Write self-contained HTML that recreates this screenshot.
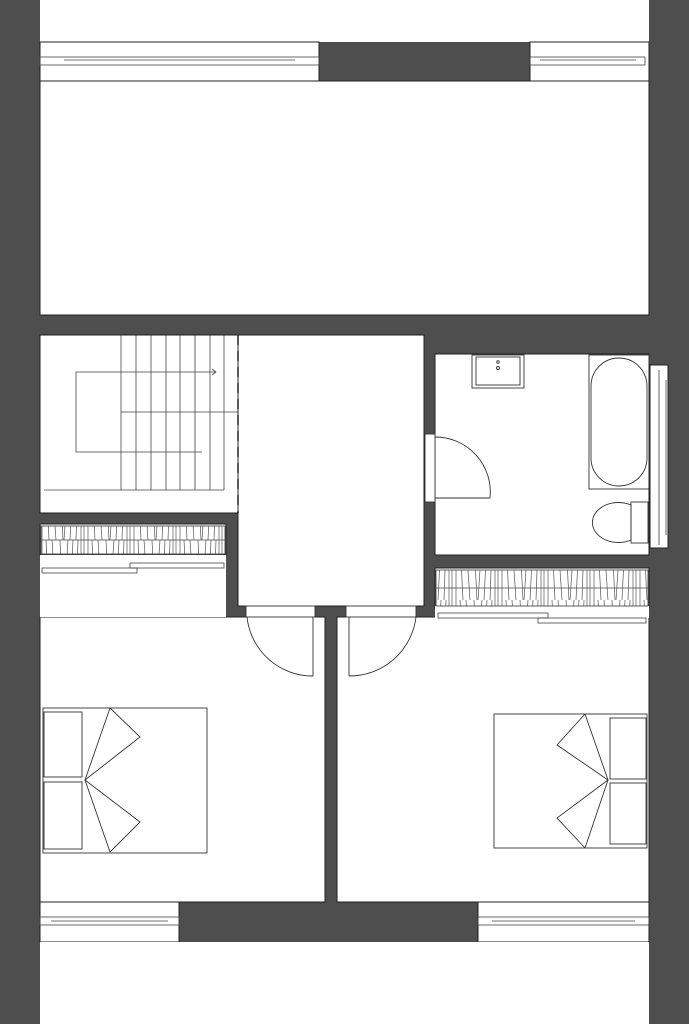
<!DOCTYPE html>
<html><head><meta charset="utf-8"><style>html,body{margin:0;padding:0;background:#fff}svg{display:block}</style></head>
<body>
<svg width="689" height="1024" viewBox="0 0 689 1024" xmlns="http://www.w3.org/2000/svg">
<defs>
<pattern id="wd" x="40" y="0" width="46" height="60" patternUnits="userSpaceOnUse">
<g stroke="#555" stroke-width="0.7" fill="none">
<line x1="2" y1="0" x2="2" y2="60"/><line x1="6" y1="0" x2="9" y2="60"/><line x1="12" y1="0" x2="16" y2="60"/>
<line x1="20" y1="0" x2="23" y2="60"/><line x1="24" y1="60" x2="28" y2="0"/><line x1="30" y1="60" x2="33" y2="0"/>
<line x1="36" y1="60" x2="38" y2="0"/><line x1="41" y1="0" x2="41" y2="60"/><line x1="44" y1="0" x2="44" y2="60"/>
</g></pattern>
</defs>
<rect width="689" height="1024" fill="#4e4e4e"/>
<g fill="#fff" stroke="#222" stroke-width="1">
<rect x="40" y="-2" width="609" height="44" stroke="none"/>
<rect x="40" y="42" width="279" height="39"/>
<rect x="530" y="42" width="119" height="39"/>
<rect x="40" y="81" width="609" height="234"/>
<rect x="40" y="335" width="198" height="178"/>
<rect x="238" y="335" width="186" height="271"/>
<rect x="435" y="354" width="214" height="201"/>
<rect x="650" y="365" width="18" height="183"/>
<rect x="40" y="524" width="186" height="31"/>
<rect x="40" y="555" width="186" height="70" stroke="none"/>
<rect x="40" y="617" width="285" height="285"/>
<rect x="435" y="568" width="214" height="40"/>
<rect x="435" y="608" width="214" height="20" stroke="none"/>
<rect x="337" y="617" width="312" height="285"/>
<rect x="40" y="902" width="139" height="40"/>
<rect x="478" y="902" width="171" height="40"/>
<rect x="40" y="942" width="609" height="84" stroke="none"/>
<rect x="246" y="604" width="69" height="14" stroke="none"/>
<rect x="346" y="604" width="70" height="14" stroke="none"/>
<rect x="40" y="555" width="186" height="62" stroke="none"/>
<rect x="435" y="606" width="214" height="12" stroke="none"/>
</g>
<g fill="url(#wd)" stroke="#333" stroke-width="0.8">
<rect x="41" y="526" width="184" height="28"/>
<rect x="436" y="570" width="212" height="36"/>
</g>
<g fill="none" stroke="#444" stroke-width="0.8">
<line x1="41" y1="540" x2="225" y2="540"/><line x1="436" y1="588" x2="648" y2="588"/>
<!-- sliding doors -->
<rect x="42" y="568" width="95" height="5"/><rect x="130" y="563" width="94" height="5"/>
<rect x="438" y="613" width="110" height="5"/><rect x="538" y="618" width="108" height="5"/>
<!-- windows -->
<rect x="40" y="57" width="279" height="8"/><line x1="64" y1="60" x2="295" y2="60"/>
<rect x="530" y="57" width="115" height="8"/><line x1="540" y1="60" x2="636" y2="60"/>
<rect x="40" y="917" width="139" height="8"/><line x1="51" y1="921" x2="168" y2="921"/>
<rect x="478" y="917" width="171" height="8"/><line x1="492" y1="921" x2="635" y2="921"/>
<line x1="659" y1="370" x2="659" y2="545"/><line x1="666" y1="380" x2="666" y2="535"/>
<!-- stairs -->
<line x1="121" y1="335" x2="121" y2="490"/><line x1="136" y1="335" x2="136" y2="490"/>
<line x1="151" y1="335" x2="151" y2="490"/><line x1="166" y1="335" x2="166" y2="490"/>
<line x1="180" y1="335" x2="180" y2="490"/><line x1="195" y1="335" x2="195" y2="490"/>
<line x1="210" y1="335" x2="210" y2="490"/><line x1="224" y1="335" x2="224" y2="490"/>
<line x1="121" y1="412" x2="238" y2="412"/><line x1="44" y1="490" x2="224" y2="490"/>
<polyline points="216,372 76,372 76,452 202,452"/>
<polyline points="212,369 216,372 212,375"/>
</g>
<line x1="238" y1="335" x2="238" y2="513" stroke="#222" stroke-width="1.5" stroke-dasharray="10,6"/>
<!-- doors -->
<g fill="none" stroke="#333" stroke-width="0.9">
<rect x="246" y="606" width="69" height="11" fill="#fff"/><rect x="346" y="606" width="70" height="11" fill="#fff"/>
<line x1="313" y1="617" x2="313" y2="676"/><path d="M247,617 A66,66 0 0 0 313,676"/>
<line x1="349" y1="617" x2="349" y2="676"/><path d="M416,617 A67,67 0 0 1 349,676"/>
<rect x="425" y="434" width="10" height="68" fill="#fff"/>
<line x1="435" y1="498" x2="490" y2="498"/><path d="M490,498 A55,55 0 0 0 435,437"/>
<!-- bathroom -->
<rect x="472" y="355" width="52" height="33"/><rect x="476" y="357" width="44" height="28"/>
<circle cx="498" cy="362" r="1.3"/><circle cx="498" cy="368" r="1.5"/>
<rect x="589" y="355" width="60" height="134"/>
<rect x="591" y="358" width="56" height="128" rx="28"/>
<rect x="631" y="502" width="17" height="41"/>
<path d="M631,505 A26,20 0 1 0 631,540 Z"/>
<!-- beds -->
<rect x="43" y="708" width="164" height="145"/>
<rect x="44" y="712" width="38" height="65"/><rect x="44" y="782" width="38" height="67"/>
<polyline points="110,708 85,780 110,852"/><polyline points="110,708 140,737 85,780 140,822 110,852"/>
<rect x="494" y="714" width="153" height="134"/>
<rect x="610" y="718" width="36" height="61"/><rect x="610" y="783" width="36" height="61"/>
<polyline points="585,714 608,780 585,848"/><polyline points="585,714 557,745 608,780 557,818 585,848"/>
</g>
</svg>
</body></html>
